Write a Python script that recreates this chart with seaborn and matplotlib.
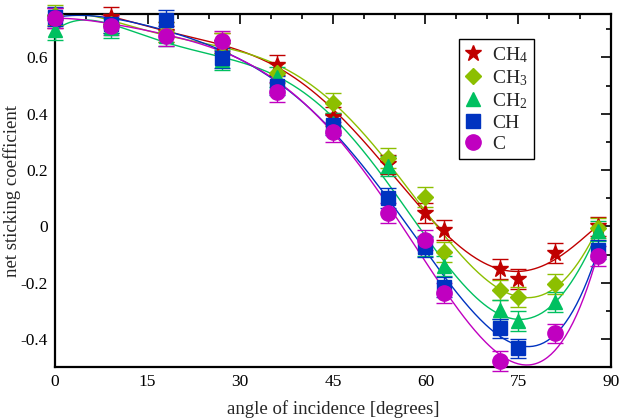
import numpy as np
import pandas as pd
import matplotlib
matplotlib.use("Agg")
import matplotlib.pyplot as plt
import seaborn as sns
from matplotlib.ticker import MultipleLocator, FixedLocator, FixedFormatter

# ---- data ----
angles = [0, 9, 18, 27, 36, 45, 54, 60, 63, 72, 75, 81, 88]
ch4 = [0.74, 0.745, 0.69, 0.65, 0.573, 0.39, 0.22, 0.048, -0.013, -0.152, -0.187, -0.094, 0.0]
ch3 = [0.75, 0.72, 0.69, 0.65, 0.545, 0.439, 0.242, 0.105, -0.09, -0.226, -0.25, -0.205, -0.006]
ch2 = [0.697, 0.705, 0.675, 0.59, 0.53, 0.367, 0.214, -0.07, -0.141, -0.295, -0.335, -0.268, -0.016]
ch = [0.745, 0.72, 0.733, 0.598, 0.50, 0.36, 0.10, -0.072, -0.215, -0.362, -0.433, np.nan, -0.082]
c = [0.741, 0.713, 0.676, 0.657, 0.478, 0.336, 0.047, -0.049, -0.236, -0.477, -0.54, -0.38, -0.105]
err = [0.035] * len(angles)

labels = ["CH$_4$", "CH$_3$", "CH$_2$", "CH", "C"]
series = [ch4, ch3, ch2, ch, c]
colors = ["#c00000", "#8cbf00", "#00c060", "#0033c0", "#c000c0"]
markers = ["*", "D", "^", "s", "o"]
msizes = [12, 8.5, 10, 9.5, 11]

xticks = [0, 15, 30, 45, 60, 75, 90]
yticks = [-0.4, -0.2, 0.0, 0.2, 0.4, 0.6]
yticklabels = ["-0.4", "-0.2", "0", "0.2", "0.4", "0.6"]
ylim = (-0.5, 0.753)

sns.set_theme(style="white")
plt.rcParams["font.family"] = ["Liberation Serif", "DejaVu Serif"]
plt.rcParams["mathtext.fontset"] = "custom"
plt.rcParams["mathtext.rm"] = "Liberation Serif"
plt.rcParams["mathtext.it"] = "Liberation Serif"
plt.rcParams["axes.unicode_minus"] = False

fig = plt.figure(figsize=(6.2, 4.19), dpi=100)
ax = fig.add_axes([0.0887, 0.1234, 0.8963, 0.8425])

# smooth polynomial fits through each series
xfine = np.linspace(angles[0], angles[-1], 300)
rows = []
for lab, ys in zip(labels, series):
    xa = np.array(angles, float) / 90.0
    ya = np.array(ys, float)
    m = ~np.isnan(ya)
    coef = np.polyfit(xa[m], ya[m], 6)
    yf = np.polyval(coef, xfine / 90.0)
    rows.append(pd.DataFrame({"angle": xfine, "fit": yf, "species": lab}))
fits = pd.concat(rows, ignore_index=True)

sns.lineplot(data=fits, x="angle", y="fit", hue="species", palette=colors,
             hue_order=labels, lw=1.0, legend=False, ax=ax, zorder=2)

handles = []
for lab, ys, col, mk, ms in zip(labels, series, colors, markers, msizes):
    ya = np.array(ys, float)
    # points outside the y range are not drawn (as in the original plot)
    ya = np.where((ya >= ylim[0]) & (ya <= ylim[1] + 0.02), ya, np.nan)
    ax.errorbar(angles, ya, yerr=err, fmt=mk, color=col, ms=ms,
                mec=col, elinewidth=1.0, capsize=6, capthick=1.0,
                clip_on=False, zorder=3)
    handles.append(ax.plot([], [], mk, color=col, ms=ms, ls="none")[0])

ax.set_xlim(0, 90)
ax.set_ylim(*ylim)
ax.xaxis.set_major_locator(FixedLocator(xticks))
ax.xaxis.set_minor_locator(MultipleLocator(5))
ax.yaxis.set_major_locator(FixedLocator(yticks))
ax.yaxis.set_major_formatter(FixedFormatter(yticklabels))
ax.yaxis.set_minor_locator(MultipleLocator(0.1))
ax.tick_params(which="both", direction="in", top=True, right=True,
               labelsize=12.5, colors="black", width=1.2, pad=5)
ax.tick_params(which="major", length=7)
ax.tick_params(which="minor", length=3.6)
for sp in ax.spines.values():
    sp.set_color("black")
    sp.set_linewidth(1.6)

ax.set_xlabel("angle of incidence [degrees]", fontsize=13.5)
ax.set_ylabel("net sticking coefficient", fontsize=13.5)
ax.xaxis.set_label_coords(0.5, -0.092)
ax.yaxis.set_label_coords(-0.062, 0.5)

leg = ax.legend(handles, labels, loc="upper left", bbox_to_anchor=(0.727, 0.93),
                fontsize=14, frameon=True, fancybox=False, framealpha=1,
                edgecolor="black", handlelength=0.8, handletextpad=0.6,
                labelspacing=0.18, borderpad=0.3, borderaxespad=0)
leg.get_frame().set_linewidth(1.0)

fig.savefig("out.png", dpi=100)
